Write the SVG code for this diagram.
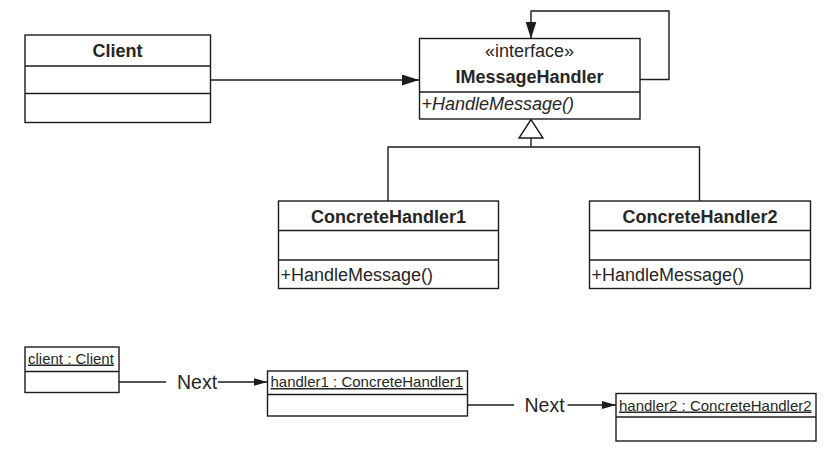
<svg xmlns="http://www.w3.org/2000/svg" width="837" height="451" viewBox="0 0 837 451">
<defs>
<style>
.box{fill:#fff;stroke:#1c1c1c;stroke-width:1.4}
.ln{fill:none;stroke:#1c1c1c;stroke-width:1.4}
text{font-family:"Liberation Sans",Arial,sans-serif;fill:#262626}
.t{font-size:18px}
.b{font-weight:bold}
.c{text-anchor:middle}
.i{font-style:italic}
.o{font-size:15px;text-decoration:underline}
.nx{font-size:19.5px}
</style>
<marker id="ab" markerUnits="userSpaceOnUse" markerWidth="18" markerHeight="12" refX="17" refY="5.5" orient="auto">
<path d="M0,0 L17,5.5 L0,11 Z" fill="#1c1c1c"/>
</marker>
<marker id="as" markerUnits="userSpaceOnUse" markerWidth="15" markerHeight="9" refX="14" refY="4" orient="auto">
<path d="M0,0 L14,4 L0,8 Z" fill="#1c1c1c"/>
</marker>
</defs>
<rect width="837" height="451" fill="#fff"/>

<g id="connectors">
<line class="ln" x1="210.5" y1="80" x2="419" y2="80" marker-end="url(#ab)"/>
<polyline class="ln" points="640,79.5 669,79.5 669,11 531,11 531,38.5" marker-end="url(#ab)"/>
<polygon points="531,119.5 519,138 543,138" fill="#fff" stroke="#1c1c1c" stroke-width="1.4"/>
<polyline class="ln" points="531,138 531,147"/>
<polyline class="ln" points="388,201 388,147 699.5,147 699.5,201"/>
<line class="ln" x1="119" y1="382" x2="166" y2="382"/>
<text class="nx" x="177" y="388.5">Next</text>
<line class="ln" x1="218" y1="382" x2="267.5" y2="382" marker-end="url(#as)"/>
<line class="ln" x1="467.5" y1="405" x2="514" y2="405"/>
<text class="nx" x="524.5" y="411.5">Next</text>
<line class="ln" x1="567.5" y1="405" x2="616" y2="405" marker-end="url(#as)"/>
</g>

<g id="client">
<rect class="box" x="25" y="35" width="185.5" height="87.5"/>
<line class="ln" x1="25" y1="66" x2="210.5" y2="66"/>
<line class="ln" x1="25" y1="93.5" x2="210.5" y2="93.5"/>
<text class="t b c" x="117.5" y="56.5">Client</text>
</g>

<g id="imessagehandler">
<rect class="box" x="419.5" y="38.5" width="220.5" height="80.5"/>
<line class="ln" x1="419.5" y1="92" x2="640" y2="92"/>
<text class="t c" x="529.5" y="57">«interface»</text>
<text class="t b c" x="529.5" y="83">IMessageHandler</text>
<text class="t i" x="421.5" y="110">+HandleMessage()</text>
</g>

<g id="concretehandler1">
<rect class="box" x="278.5" y="201" width="220" height="87.5"/>
<line class="ln" x1="278.5" y1="230.5" x2="498.5" y2="230.5"/>
<line class="ln" x1="278.5" y1="260" x2="498.5" y2="260"/>
<text class="t b c" x="388.5" y="222.5">ConcreteHandler1</text>
<text class="t" x="280.5" y="281">+HandleMessage()</text>
</g>

<g id="concretehandler2">
<rect class="box" x="589.5" y="201" width="221" height="87.5"/>
<line class="ln" x1="589.5" y1="230.5" x2="810.5" y2="230.5"/>
<line class="ln" x1="589.5" y1="260" x2="810.5" y2="260"/>
<text class="t b c" x="700" y="222.5">ConcreteHandler2</text>
<text class="t" x="591.5" y="281">+HandleMessage()</text>
</g>

<g id="client-obj">
<rect class="box" x="25" y="347" width="94" height="45.5"/>
<line class="ln" x1="25" y1="371.5" x2="119" y2="371.5"/>
<text class="o" x="28" y="363.5">client : Client</text>
</g>

<g id="handler1-obj">
<rect class="box" x="267.5" y="371" width="200" height="45"/>
<line class="ln" x1="267.5" y1="394.5" x2="467.5" y2="394.5"/>
<text class="o" x="270.5" y="387">handler1 : ConcreteHandler1</text>
</g>

<g id="handler2-obj">
<rect class="box" x="616" y="393.5" width="200" height="47.5"/>
<line class="ln" x1="616" y1="417" x2="816" y2="417"/>
<text class="o" x="619" y="410.5">handler2 : ConcreteHandler2</text>
</g>
</svg>
